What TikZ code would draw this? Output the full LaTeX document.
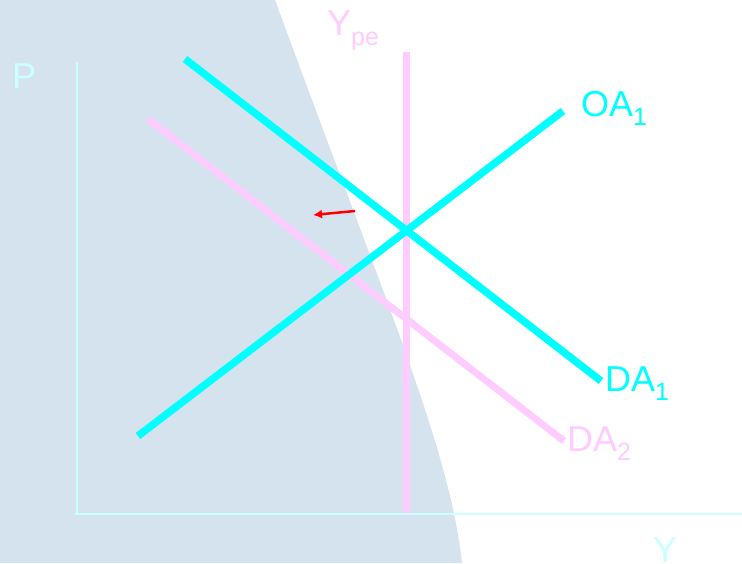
\documentclass[tikz,border=0pt]{standalone}
\usepackage{fontspec}
\usetikzlibrary{arrows.meta}
\setmainfont{Liberation Sans}
\definecolor{bgblue}{RGB}{213,227,239}
\definecolor{cyanline}{RGB}{0,255,255}
\definecolor{pinkline}{RGB}{255,204,255}
\definecolor{axiscol}{RGB}{204,255,255}
\begin{document}
\begin{tikzpicture}[x=1pt,y=-1pt,
  curve/.style={line width=7.5pt},
  lbl/.style={anchor=base west,inner sep=0pt,font=\fontsize{36}{36}\selectfont},
  axisline/.style={axiscol,line width=2pt}]
\useasboundingbox (0,0) rectangle (742,563);
\fill[white] (0,0) rectangle (742,563);
\fill[bgblue] (0,0) -- (275,0) .. controls (385,300) and (450,450) .. (462,563) -- (0,563) -- cycle;
% axes
\coordinate (ytop) at (77,62);
\coordinate (origin) at (77,514);
\coordinate (xend) at (742,514);
\draw[axisline] (ytop) -- (origin);
\draw[axisline] (75,514) -- (xend);
\node[lbl,text=axiscol] (plbl) at (12,88) {P};
\node[lbl,text=axiscol,anchor=base] (ylbl) at (665,562) {Y};
% Ype
\coordinate (ypetop) at (406,52);
\coordinate (ypebot) at (406,513);
\draw[pinkline,line width=7pt] (ypetop) -- (ypebot);
\node[lbl,text=pinkline] (ypelbl) at (327,35) {Y\raisebox{-10pt}{\fontsize{25}{25}\selectfont pe}};
% DA2
\coordinate (da2a) at (148,119);
\coordinate (da2b) at (564,441);
\draw[pinkline,line width=7pt] (da2a) -- (da2b);
% DA1
\coordinate (da1a) at (185,59);
\coordinate (da1b) at (601,381);
\draw[cyanline,curve] (da1a) -- (da1b);
% OA1
\coordinate (oa1a) at (138,436);
\coordinate (oa1b) at (563,111);
\draw[cyanline,curve] (oa1a) -- (oa1b);
% labels
\node[lbl,text=cyanline] (oalbl) at (581,116) {OA\raisebox{-9pt}{\fontsize{25}{25}\selectfont 1}};
\node[lbl,text=cyanline] (da1lbl) at (605,391) {DA\raisebox{-9pt}{\fontsize{25}{25}\selectfont 1}};
\node[lbl,text=pinkline] (da2lbl) at (567,451) {DA\raisebox{-9pt}{\fontsize{25}{25}\selectfont 2}};
% red arrow
\coordinate (arrs) at (355,211);
\coordinate (arre) at (313,215);
\draw[red,line width=2.5pt,-{Latex[length=9pt,width=9pt]}] (arrs) -- (arre);
\end{tikzpicture}
\end{document}
